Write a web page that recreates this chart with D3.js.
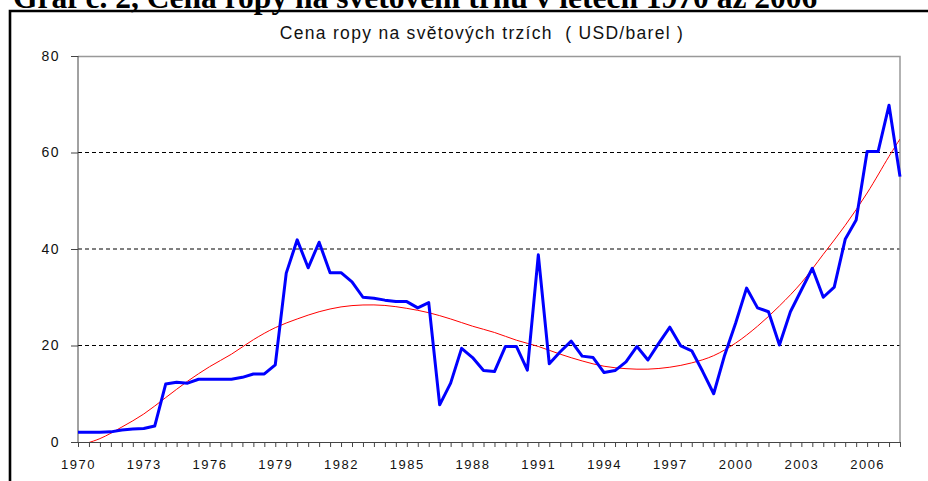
<!DOCTYPE html>
<html>
<head>
<meta charset="utf-8">
<script src="https://cdn.jsdelivr.net/npm/d3@7"></script>
<style>
  body { margin: 0; background: #fff; }
  .heading { font-family: "Liberation Serif", "Times New Roman", serif; font-weight: bold; font-size: 31.5px; }
  .title { font-family: "Liberation Sans", Arial, sans-serif; font-size: 17.5px; fill: #111; letter-spacing: 1.3px; white-space: pre; }
  .axis text { font-family: "Liberation Sans", Arial, sans-serif; font-size: 13px; fill: #111; letter-spacing: 1.5px; }
  .axis path, .axis line { stroke: #444; }
</style>
</head>
<body>
<svg id="chart"></svg>
<script>
// half-year categories 1970 .. 2007.5
const years = d3.range(1970, 2008, 0.5);
// oil price, USD/barel
const price = [
  2.0, 2.0, 2.0, 2.1, 2.5, 2.7, 2.8, 3.3, 12.0, 12.4,
  12.2, 13.0, 13.0, 13.0, 13.0, 13.4, 14.1, 14.1, 16.0, 35.0,
  41.9, 36.1, 41.4, 35.1, 35.1, 33.2, 30.0, 29.8, 29.4, 29.1,
  29.1, 27.8, 28.9, 7.7, 12.2, 19.4, 17.5, 14.8, 14.6, 19.8,
  19.8, 14.9, 38.8, 16.2, 18.7, 20.9, 17.8, 17.5, 14.4, 14.8,
  16.6, 19.8, 17.0, 20.5, 23.8, 19.9, 18.9, 14.6, 10.0, 18.0,
  24.6, 31.9, 27.8, 27.0, 20.1, 27.0, 31.5, 36.0, 30.0, 32.1,
  42.0, 46.0, 60.2, 60.2, 69.8, 55.0
];
// trend line samples (polynomial trend in the original)
const trendYears = [
  1970, 1971, 1972, 1973, 1974, 1975, 1976, 1977, 1978, 1979,
  1980, 1981, 1982, 1983, 1984, 1985, 1986, 1987, 1988, 1989,
  1990, 1991, 1992, 1993, 1994, 1995, 1996, 1997, 1998, 1999,
  2000, 2001, 2002, 2003, 2004, 2005, 2006, 2007, 2007.5
];
const trend = [
  -0.8, 0.7, 3.1, 5.8, 9.2, 12.6, 15.6, 18.2, 21.2, 23.7,
  25.5, 27.0, 28.0, 28.4, 28.3, 27.7, 26.8, 25.5, 24.0, 22.7,
  21.1, 19.8, 18.2, 16.8, 15.7, 15.2, 15.1, 15.5, 16.4, 17.9,
  20.5, 24.0, 28.2, 33.0, 38.9, 44.9, 51.6, 59.2, 62.8
];
const tickLabels = [1970, 1973, 1976, 1979, 1982, 1985, 1988, 1991, 1994, 1997, 2000, 2003, 2006];
const yTicks = [0, 20, 40, 60, 80];

const W = 928, H = 481;
const margin = {top: 56, right: 28, bottom: 39, left: 78};
const width = W - margin.left - margin.right;
const height = H - margin.top - margin.bottom;

const svg = d3.select("#chart").attr("width", W).attr("height", H);

// heading of the document page, cut off at the top
svg.append("text").attr("class", "heading")
  .attr("x", 13).attr("y", 8)
  .text("Graf č. 2, Cena ropy na světovém trhu v letech 1970 až 2006");

// black frame
svg.append("path")
  .attr("d", `M10,${H} L10,11 L${W},11`)
  .attr("fill", "none").attr("stroke", "#000").attr("stroke-width", 2.6);

svg.append("text").attr("class", "title")
  .attr("x", 482).attr("y", 39)
  .attr("text-anchor", "middle")
  .text("Cena ropy na světových trzích  ( USD/barel )");

const chart = svg.append("g").attr("transform", `translate(${margin.left},${margin.top})`);

const x = d3.scaleLinear().domain([1970, 2007.5]).range([0, width]);
const y = d3.scaleLinear().domain([0, 80]).range([height, 0]);

// gridlines
chart.selectAll(".grid").data(yTicks.filter(d => d > 0 && d < 80))
  .join("line").attr("class", "grid")
  .attr("x1", 0).attr("x2", width)
  .attr("y1", d => y(d)).attr("y2", d => y(d))
  .attr("stroke", "#000").attr("stroke-dasharray", "4,3");

// plot border top/right
chart.append("path")
  .attr("d", `M0,0.5 L${width},0.5 L${width},${height}`)
  .attr("fill", "none").attr("stroke", "#999").attr("stroke-width", 1.5);

chart.append("clipPath").attr("id", "clip")
  .append("rect").attr("width", width).attr("height", height);

// axes
const yAxis = d3.axisLeft(y).tickValues(yTicks).tickSize(7).tickPadding(11);
chart.append("g").attr("class", "axis y-axis").call(yAxis)
  .call(g => g.select(".domain").attr("d", `M0,0 V${height}`))
  .selectAll("text").style("font-size", "14px");

const xAxis = d3.axisBottom(x).tickValues(years).tickSize(5).tickSizeOuter(0)
  .tickFormat(d => tickLabels.includes(d) ? d : "");
chart.append("g").attr("class", "axis x-axis")
  .attr("transform", `translate(0,${height})`)
  .call(xAxis)
  .call(g => g.selectAll("text").attr("dy", "1.45em"));

// trend line
const trendLine = d3.line()
  .x((d, i) => x(trendYears[i]))
  .y(d => y(d))
  .curve(d3.curveCatmullRom);
chart.append("path").datum(trend)
  .attr("clip-path", "url(#clip)")
  .attr("fill", "none").attr("stroke", "#ff0000").attr("stroke-width", 1)
  .attr("d", trendLine);

// price line
const priceLine = d3.line()
  .x((d, i) => x(years[i]))
  .y(d => y(d));
chart.append("path").datum(price)
  .attr("fill", "none").attr("stroke", "#0000ff").attr("stroke-width", 3)
  .attr("stroke-linejoin", "round")
  .attr("d", priceLine);
</script>
</body>
</html>
